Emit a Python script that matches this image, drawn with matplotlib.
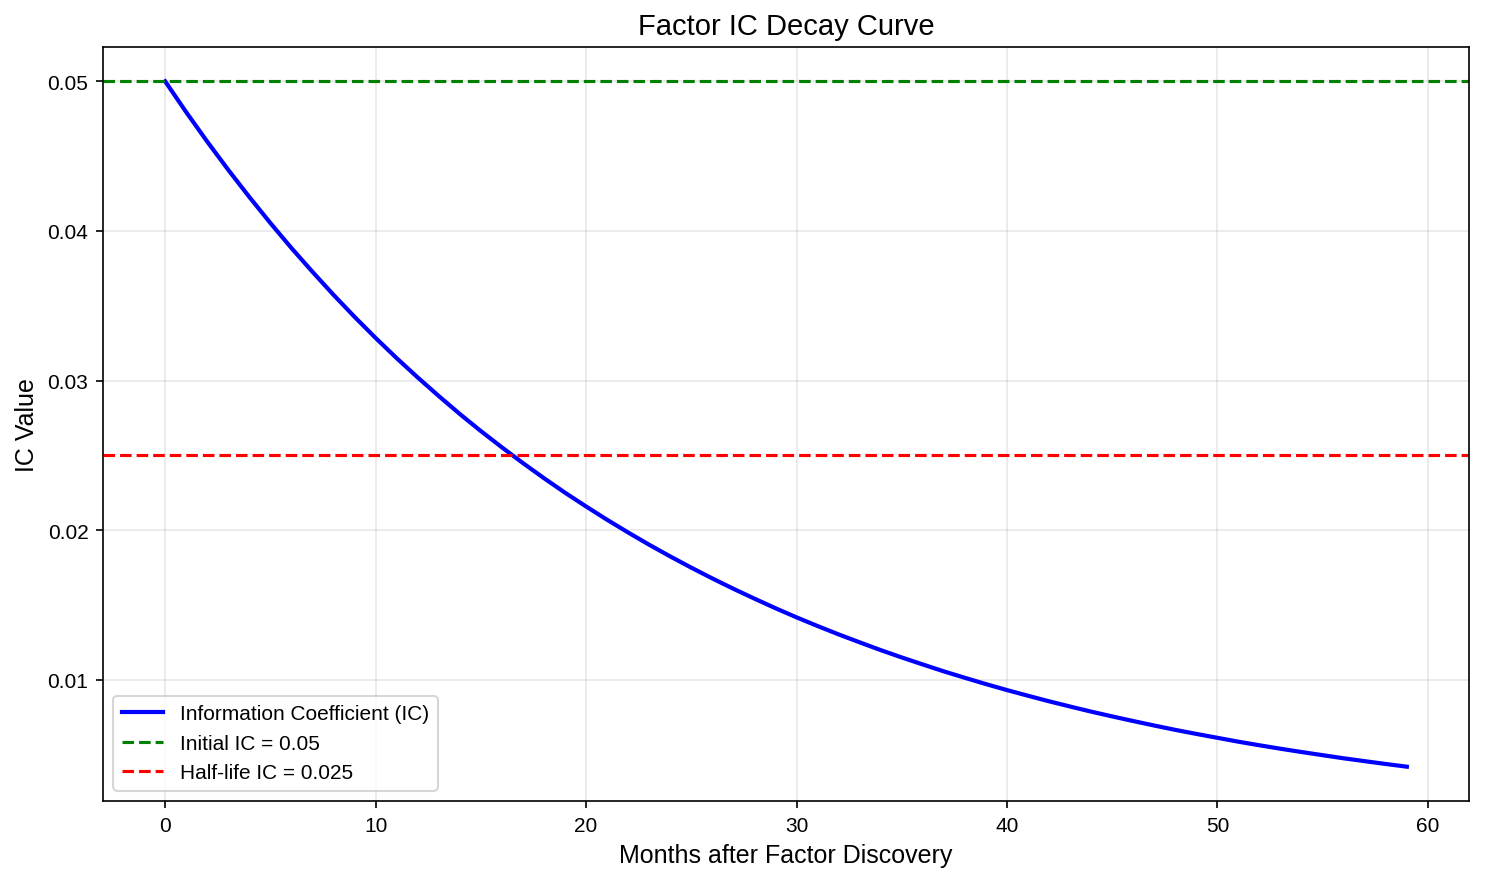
import matplotlib.pyplot as plt

plt.rcParams['font.family'] = ['Liberation Sans', 'DejaVu Sans']

# months after discovery and IC
months = list(range(60))
ic_values = [
    0.05000, 0.04794, 0.04597, 0.04408, 0.04227, 0.04053, 0.03886, 0.03727, 0.03573, 0.03426,
    0.03285, 0.03150, 0.03021, 0.02897, 0.02777, 0.02663, 0.02554, 0.02449, 0.02348, 0.02251,
    0.02159, 0.02070, 0.01985, 0.01903, 0.01825, 0.01750, 0.01678, 0.01609, 0.01543, 0.01479,
    0.01418, 0.01360, 0.01304, 0.01251, 0.01199, 0.01150, 0.01103, 0.01057, 0.01014, 0.00972,
    0.00932, 0.00894, 0.00857, 0.00822, 0.00788, 0.00756, 0.00725, 0.00695, 0.00666, 0.00639,
    0.00613, 0.00587, 0.00563, 0.00540, 0.00518, 0.00497, 0.00476, 0.00457, 0.00438, 0.00420,
]
initial_ic = 0.05
half_life_ic = 0.025

fig, ax = plt.subplots(figsize=(9.9, 5.893), dpi=150)
fig.subplots_adjust(left=0.0694, right=0.9892, top=0.9457, bottom=0.0928)

ax.plot(months, ic_values, color='blue', lw=2, label='Information Coefficient (IC)')
ax.axhline(initial_ic, color='green', ls='--', lw=1.5, label='Initial IC = 0.05')
ax.axhline(half_life_ic, color='red', ls='--', lw=1.5, label='Half-life IC = 0.025')

ax.set_title('Factor IC Decay Curve', fontsize=14)
ax.set_xlabel('Months after Factor Discovery', fontsize=12)
ax.set_ylabel('IC Value', fontsize=12)
ax.set_yticks([0.01, 0.02, 0.03, 0.04, 0.05])
ax.grid(True, alpha=0.3)
ax.legend(loc='lower left')

plt.savefig('out.png')
